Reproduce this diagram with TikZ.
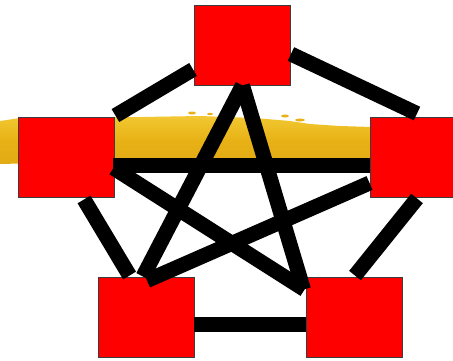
\documentclass[tikz,border=0pt]{standalone}
\usetikzlibrary{calc}
\definecolor{boxred}{RGB}{255,0,0}
\definecolor{boxedge}{RGB}{60,60,60}
\definecolor{brushtop}{RGB}{242,200,50}
\definecolor{brushmid}{RGB}{232,178,22}
\definecolor{brushbot}{RGB}{226,170,20}
\tikzset{
  box/.style={rectangle, fill=boxred, draw=boxedge, line width=0.9pt, minimum width=96pt, minimum height=80pt, inner sep=0pt},
  bar/.style={line width=15pt, black},
  speck/.style={fill=brushmid}
}
\begin{document}
\begin{tikzpicture}[x=1pt,y=-1pt]
\useasboundingbox (0,0) rectangle (453,360);
\clip (0,0) rectangle (453,360);
% yellow brush stroke
\shade[top color=brushtop, bottom color=brushbot, middle color=brushmid]
  (0,121) -- (20,118) -- (80,117) -- (140,117) -- (200,116) -- (255,118) -- (290,121) -- (310,124) -- (340,126) -- (372,127)
  -- (372,160) -- (200,161) -- (40,163) -- (0,164) -- cycle;
\fill[speck] (192,113) ellipse (4pt and 1.5pt);
\fill[speck] (210,114) ellipse (3pt and 1.2pt);
\fill[speck] (285,116) ellipse (4pt and 1.5pt);
\fill[speck] (300,120) ellipse (5pt and 1.5pt);
% boxes
\node[box] (top) at (242.5,45) {};
\node[box] (lft) at (66,157) {};
\node[box] (rgt) at (418,157) {};
\node[box] (bl) at (146,317) {};
\node[box] (br) at (354,317) {};
% pentagon edges
\draw[bar] ($(lft.north east)+(1,-1)$) -- ($(top.south west)+(-1,-16)$);
\draw[bar] ($(top.east)+(0,9)$) -- ($(rgt.north)+(-1,-3)$);
\draw[bar] ($(lft.east)+(-1,8)$) -- ($(rgt.west)+(0,8)$);
\draw[bar] ($(lft.south)+(18,2)$) -- ($(bl.north west)+(32,-1)$);
\draw[bar] ($(rgt.south)+(-1,1)$) -- ($(br.north)+(1,-1)$);
\draw[bar] ($(bl.east)+(0,7)$) -- ($(br.west)+(0,7)$);
% star
\draw[bar] (top.south) -- ($(bl.north)+(-3,0)$);
\draw[bar] (top.south) -- ($(br.north west)+(-2,13)$);
\draw[bar] ($(lft.east)+(-1,11)$) -- ($(br.north west)+(-1,13)$);
\draw[bar] ($(rgt.west)+(0,26)$) -- ($(bl.north)+(1,4)$);
\end{tikzpicture}
\end{document}
